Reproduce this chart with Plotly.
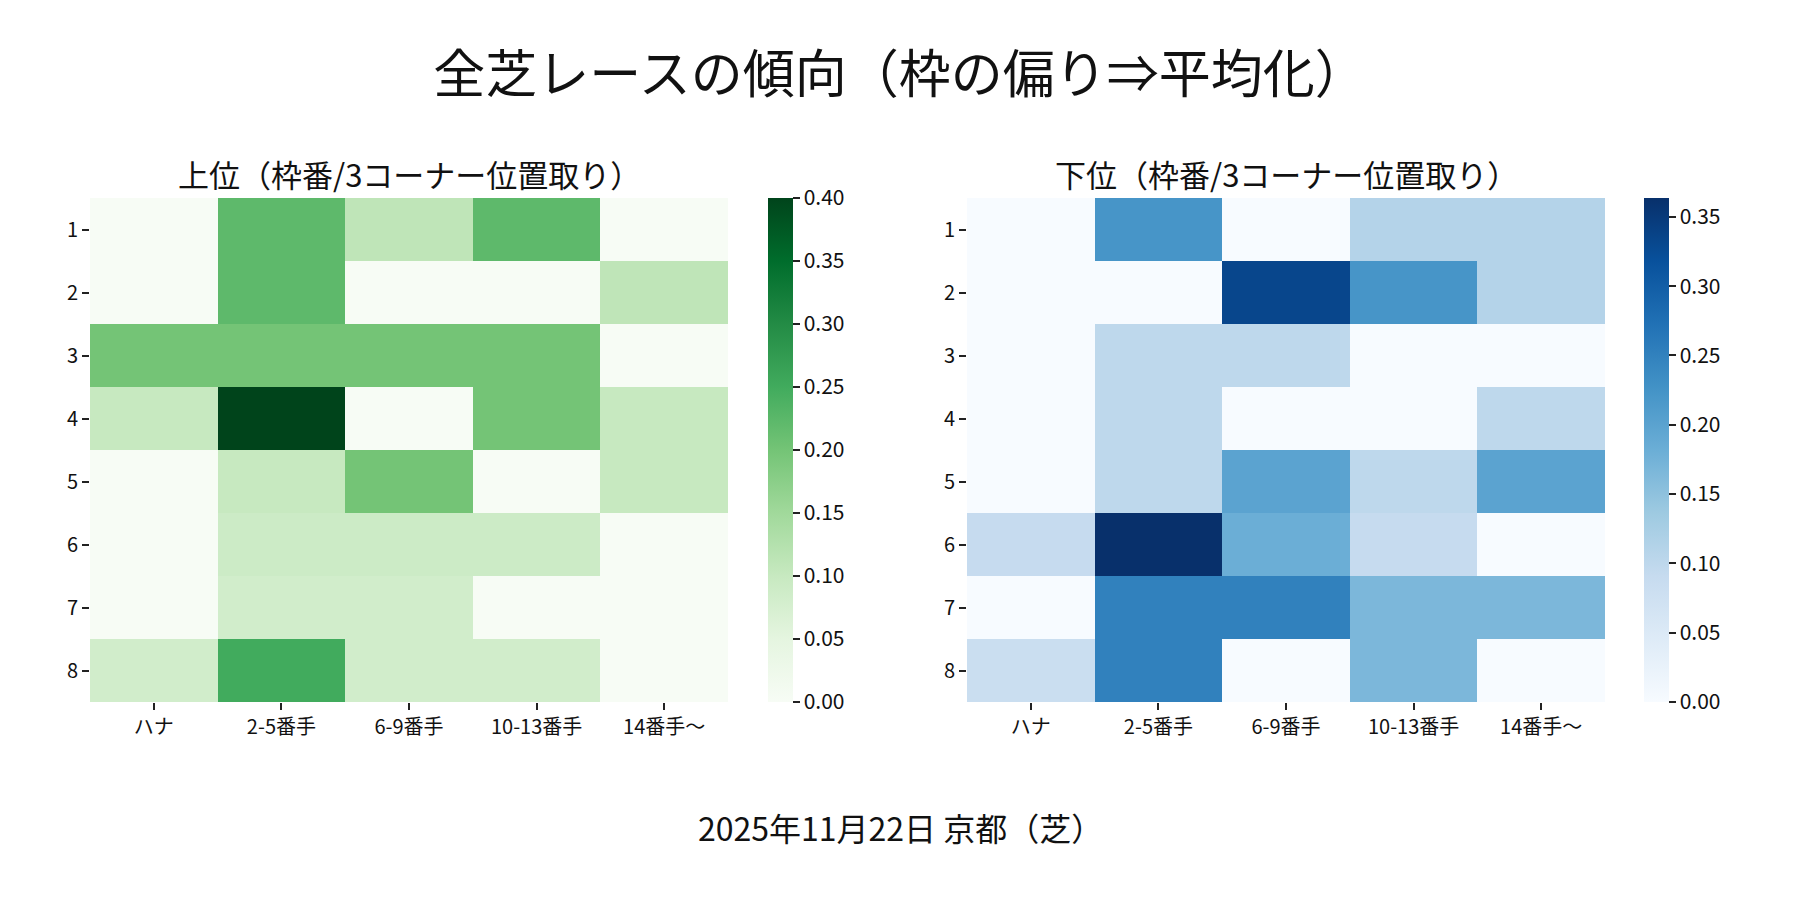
import plotly.graph_objects as go

# 3コーナー位置取り (columns) x 枠番 (rows)
positions = ["ハナ", "2-5番手", "6-9番手", "10-13番手", "14番手〜"]
gates = [1, 2, 3, 4, 5, 6, 7, 8]

# 上位 share per cell
top_rates = [
    [0.0, 0.222, 0.111, 0.222, 0.0],
    [0.0, 0.222, 0.0, 0.0, 0.111],
    [0.2, 0.2, 0.2, 0.2, 0.0],
    [0.1, 0.4, 0.0, 0.2, 0.1],
    [0.0, 0.1, 0.2, 0.0, 0.1],
    [0.0, 0.0909, 0.0909, 0.0909, 0.0],
    [0.0, 0.0833, 0.0833, 0.0, 0.0],
    [0.0833, 0.25, 0.0833, 0.0833, 0.0],
]

# 下位 share per cell
bottom_rates = [
    [0.0, 0.222, 0.0, 0.111, 0.111],
    [0.0, 0.0, 0.333, 0.222, 0.111],
    [0.0, 0.1, 0.1, 0.0, 0.0],
    [0.0, 0.1, 0.0, 0.0, 0.1],
    [0.0, 0.1, 0.2, 0.1, 0.2],
    [0.0909, 0.3636, 0.1818, 0.0909, 0.0],
    [0.0, 0.25, 0.25, 0.1667, 0.1667],
    [0.0833, 0.25, 0.0, 0.1667, 0.0],
]

greens = ["#f7fcf5", "#e5f5e0", "#c7e9c0", "#a1d99b", "#74c476",
          "#41ab5d", "#238b45", "#006d2c", "#00441b"]
blues = ["#f7fbff", "#deebf7", "#c6dbef", "#9ecae1", "#6baed6",
         "#4292c6", "#2171b5", "#08519c", "#08306b"]


def scale(cols):
    n = len(cols) - 1
    return [[i / n, c] for i, c in enumerate(cols)]


FONT = "Noto Sans CJK JP"
W, H = 1800, 900
OFF = 8  # page body margin in the browser


def px(x):
    return (x - OFF) / W


def py(y):
    return 1 - (y - OFF) / H


fig = go.Figure()

cb_common = dict(
    thickness=25, len=504 / H, y=py(450), yanchor="middle", xanchor="left",
    xpad=0, ypad=0,
    ticks="outside", ticklen=7, tickwidth=2, tickcolor="#222",
    tickformat=".2f", dtick=0.05, outlinewidth=0,
    tickfont=dict(size=21, color="#111", family=FONT),
)

fig.add_trace(go.Heatmap(
    z=top_rates, x=positions, y=gates, colorscale=scale(greens),
    zmin=0, zmax=max(max(r) for r in top_rates),
    xaxis="x", yaxis="y",
    colorbar=dict(x=px(768), **cb_common),
))
fig.add_trace(go.Heatmap(
    z=bottom_rates, x=positions, y=gates, colorscale=scale(blues),
    zmin=0, zmax=max(max(r) for r in bottom_rates),
    xaxis="x2", yaxis="y2",
    colorbar=dict(x=px(1644), **cb_common),
))

ax_common = dict(
    showgrid=False, zeroline=False, showline=False,
    ticks="outside", ticklen=7, tickwidth=2, tickcolor="#222",
    tickfont=dict(size=20, color="#111", family=FONT),
)
ydom = [py(702), py(198)]

fig.update_layout(
    width=W, height=H,
    margin=dict(l=0, r=0, t=0, b=0),
    plot_bgcolor="white", paper_bgcolor="white",
    font=dict(family=FONT, color="#111"),
    title=dict(text="全芝レースの傾向（枠の偏り⇒平均化）", x=px(900), xref="paper",
               xanchor="center", y=py(75), yanchor="middle",
               font=dict(size=52, family=FONT, color="#111")),
    xaxis=dict(domain=[px(90), px(728)], anchor="y", **ax_common),
    yaxis=dict(domain=ydom, anchor="x", autorange="reversed", dtick=1, **ax_common),
    xaxis2=dict(domain=[px(967), px(1605)], anchor="y2", **ax_common),
    yaxis2=dict(domain=ydom, anchor="x2", autorange="reversed", dtick=1, **ax_common),
    annotations=[
        dict(text="上位（枠番/3コーナー位置取り）", x=px(409), y=py(174),
             xref="paper", yref="paper", xanchor="center", yanchor="middle",
             showarrow=False, font=dict(size=31, family=FONT, color="#111")),
        dict(text="下位（枠番/3コーナー位置取り）", x=px(1286), y=py(174),
             xref="paper", yref="paper", xanchor="center", yanchor="middle",
             showarrow=False, font=dict(size=31, family=FONT, color="#111")),
        dict(text="2025年11月22日 京都（芝）", x=px(900), y=py(827),
             xref="paper", yref="paper", xanchor="center", yanchor="middle",
             showarrow=False, font=dict(size=32, family=FONT, color="#111")),
    ],
)

fig.write_html("out.html")
